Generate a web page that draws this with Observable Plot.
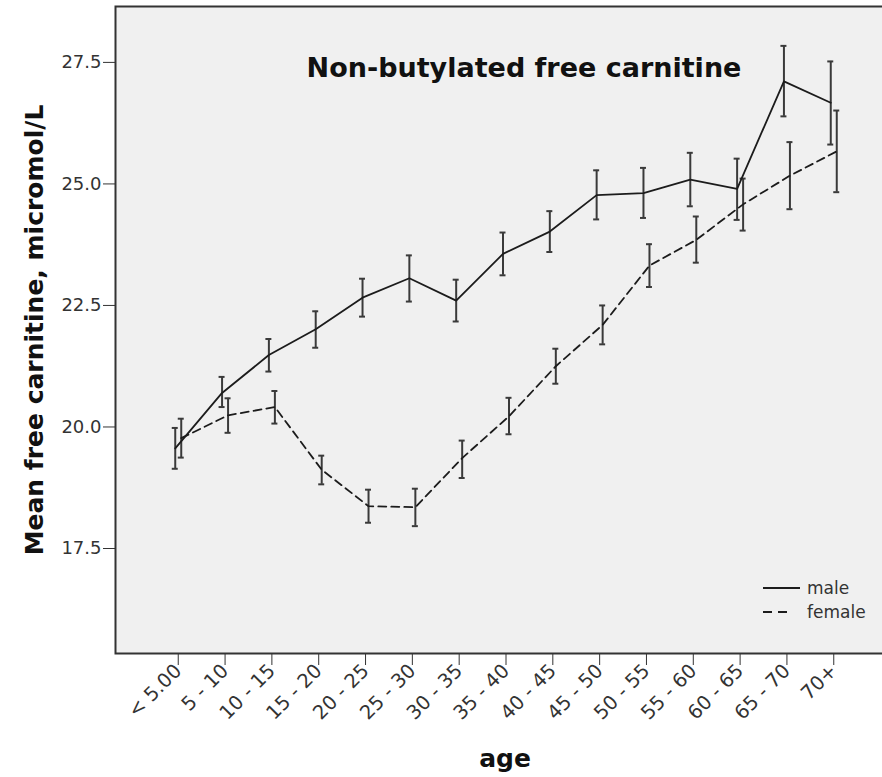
<!DOCTYPE html>
<html><head><meta charset="utf-8">
<script src="https://cdn.jsdelivr.net/npm/d3@7"></script>
<script src="https://cdn.jsdelivr.net/npm/@observablehq/plot@0.6"></script>
<style>html,body{margin:0;padding:0;background:#fff;overflow:hidden;} svg{max-width:none !important;}</style>
</head><body><div id="chart"></div>
<script>
const ageGroups = ["< 5.00","5 - 10","10 - 15","15 - 20","20 - 25","25 - 30","30 - 35","35 - 40","40 - 45","45 - 50","50 - 55","55 - 60","60 - 65","65 - 70","70+"];
const maleMean = [19.56, 20.70, 21.48, 22.01, 22.66, 23.06, 22.60, 23.56, 24.02, 24.77, 24.81, 25.09, 24.90, 27.11, 26.67];
const maleLow  = [19.14, 20.41, 21.14, 21.63, 22.27, 22.58, 22.17, 23.12, 23.60, 24.27, 24.30, 24.54, 24.26, 26.39, 25.81];
const maleHigh = [19.98, 21.03, 21.81, 22.38, 23.05, 23.53, 23.03, 24.00, 24.44, 25.28, 25.33, 25.64, 25.52, 27.84, 27.52];
const femaleMean = [19.77, 20.24, 20.41, 19.12, 18.37, 18.35, 19.36, 20.22, 21.25, 22.10, 23.32, 23.85, 24.58, 25.17, 25.67];
const femaleLow  = [19.37, 19.88, 20.07, 18.82, 18.03, 17.96, 18.95, 19.85, 20.89, 21.70, 22.88, 23.38, 24.04, 24.48, 24.83];
const femaleHigh = [20.17, 20.59, 20.74, 19.41, 18.71, 18.73, 19.72, 20.60, 21.61, 22.50, 23.76, 24.33, 25.11, 25.86, 26.51];
const yTicks = [17.5, 20.0, 22.5, 25.0, 27.5];
const seriesNames = ["male", "female"];
const titleText = "Non-butylated free carnitine";
const yLabel = "Mean free carnitine, micromol/L";
const xLabel = "age";

const male = ageGroups.map((g, i) => ({i, group: g, mean: maleMean[i], lo: maleLow[i], hi: maleHigh[i]}));
const female = ageGroups.map((g, i) => ({i, group: g, mean: femaleMean[i], lo: femaleLow[i], hi: femaleHigh[i]}));

const font = "'DejaVu Sans', Verdana, sans-serif";
const capHalf = 0.064;
const barColor = "#3a3a3a";
const lineColor = "#1c1c1c";

function errorMarks(data, dx) {
  return [
    Plot.ruleX(data, {x: "i", y1: "lo", y2: "hi", dx, stroke: barColor, strokeWidth: 2}),
    Plot.ruleY(data, {y: "lo", x1: d => d.i - capHalf, x2: d => d.i + capHalf, dx, stroke: barColor, strokeWidth: 2}),
    Plot.ruleY(data, {y: "hi", x1: d => d.i - capHalf, x2: d => d.i + capHalf, dx, stroke: barColor, strokeWidth: 2})
  ];
}

const plot = Plot.plot({
  width: 896, height: 777,
  marginLeft: 115, marginRight: 0, marginTop: 6, marginBottom: 124,
  style: {fontFamily: font, fontSize: "18px", color: "#333", background: "#fff", maxWidth: "none"},
  x: {type: "linear", domain: [-1.34, 15.34], ticks: d3.range(ageGroups.length), tickFormat: i => ageGroups[i],
      tickRotate: -45, tickSize: 12, tickPadding: 2, label: null},
  y: {domain: [15.34, 28.65], ticks: yTicks, tickFormat: d3.format(".1f"), tickSize: 12, tickPadding: 2, label: null},
  marks: [
    Plot.frame({fill: "#f0f0f0"}),
    ...errorMarks(male, -3),
    ...errorMarks(female, 3),
    Plot.line(male, {x: "i", y: "mean", dx: -3, stroke: lineColor, strokeWidth: 1.8}),
    Plot.line(female, {x: "i", y: "mean", dx: 3, stroke: lineColor, strokeWidth: 1.8, strokeDasharray: "8,5"}),
    Plot.frame({stroke: "#333", strokeWidth: 2})
  ]
});

const svg = d3.select(plot);
svg.selectAll('g[aria-label="x-axis tick label"] text, g[aria-label="x-axis"] text').style("font-size", "19.5px");

svg.append("text").attr("x", 524).attr("y", 77).attr("text-anchor", "middle")
  .style("font", `bold 27px ${font}`).attr("fill", "#111").text(titleText);
svg.append("text").attr("transform", "translate(43,330) rotate(-90)").attr("text-anchor", "middle")
  .style("font", `bold 25px ${font}`).attr("fill", "#111").text(yLabel);
svg.append("text").attr("x", 505).attr("y", 767).attr("text-anchor", "middle")
  .style("font", `bold 25px ${font}`).attr("fill", "#111").text(xLabel);

const leg = svg.append("g");
const legItems = [{name: seriesNames[0], dash: null, y: 588, x2: 800}, {name: seriesNames[1], dash: "9,6", y: 612, x2: 788}];
legItems.forEach(it => {
  leg.append("line").attr("x1", 763).attr("x2", it.x2).attr("y1", it.y).attr("y2", it.y)
    .attr("stroke", lineColor).attr("stroke-width", 1.8).attr("stroke-dasharray", it.dash);
  leg.append("text").attr("x", 807).attr("y", it.y + 6).attr("text-anchor", "start")
    .style("font", `17px ${font}`).attr("fill", "#333").text(it.name);
});

document.getElementById("chart").appendChild(plot);
</script></body></html>
